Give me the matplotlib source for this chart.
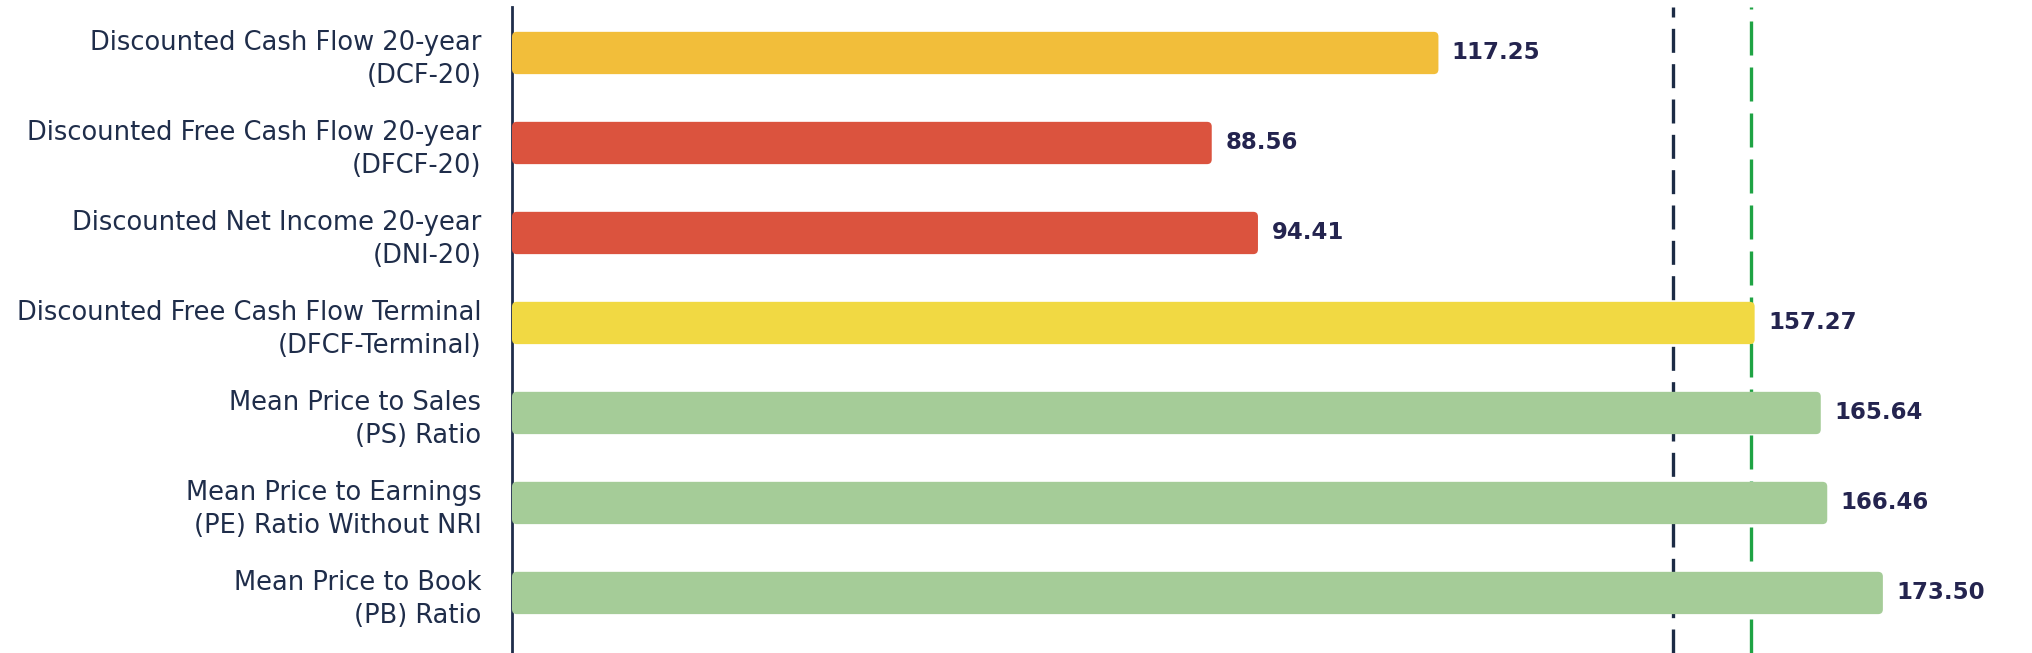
import matplotlib.pyplot as plt
from matplotlib.patches import FancyBboxPatch

labels = [
    "Discounted Cash Flow 20-year\n(DCF-20)",
    "Discounted Free Cash Flow 20-year\n(DFCF-20)",
    "Discounted Net Income 20-year\n(DNI-20)",
    "Discounted Free Cash Flow Terminal\n(DFCF-Terminal)",
    "Mean Price to Sales\n(PS) Ratio",
    "Mean Price to Earnings\n(PE) Ratio Without NRI",
    "Mean Price to Book\n(PB) Ratio",
]
values = [117.25, 88.56, 94.41, 157.27, 165.64, 166.46, 173.50]
colors = ["#F2BE3A", "#DB533E", "#DB533E", "#F1D943", "#A5CC98", "#A5CC98", "#A5CC98"]
price_line = 147.0
median_line = 156.8

text_col = "#1F2D4A"
value_col = "#24244F"

fig = plt.figure(figsize=(20.33, 6.53), dpi=100)
ax = fig.add_axes([512 / 2033, 0, 1 - 512 / 2033, 646 / 653])

xmax = 192.5
ax.set_xlim(0, xmax)
ax.set_ylim(6.667, -0.511)

bar_h = 0.47
# x px per unit ~7.9, y px per unit ~90
aspect = 7.9 / 90
for i, (v, c) in enumerate(zip(values, colors)):
    box = FancyBboxPatch((0, i - bar_h / 2), v, bar_h,
                         boxstyle="round,pad=0,rounding_size=0.6",
                         mutation_aspect=aspect, facecolor=c,
                         edgecolor="none", zorder=3)
    ax.add_patch(box)
    ax.text(v + 1.7, i, f"{v:.2f}", va="center", ha="left",
            fontsize=16.5, fontweight="bold", color=value_col, zorder=4)

ax.axvline(price_line, color="#1C2B45", lw=2.4, dashes=(7.2, 3.4), zorder=1)
ax.axvline(median_line, color="#1FA344", lw=2.4, dashes=(10.2, 3.6), zorder=1)

ax.set_yticks(range(len(labels)))
ax.set_yticklabels(labels, fontsize=18.5, color=text_col, linespacing=1.35)
ax.tick_params(axis="y", length=0, pad=22)
ax.set_xticks([])

for s in ["top", "right", "bottom"]:
    ax.spines[s].set_visible(False)
ax.spines["left"].set_color(text_col)
ax.spines["left"].set_linewidth(2)

fig.savefig("out.png", dpi=100)
